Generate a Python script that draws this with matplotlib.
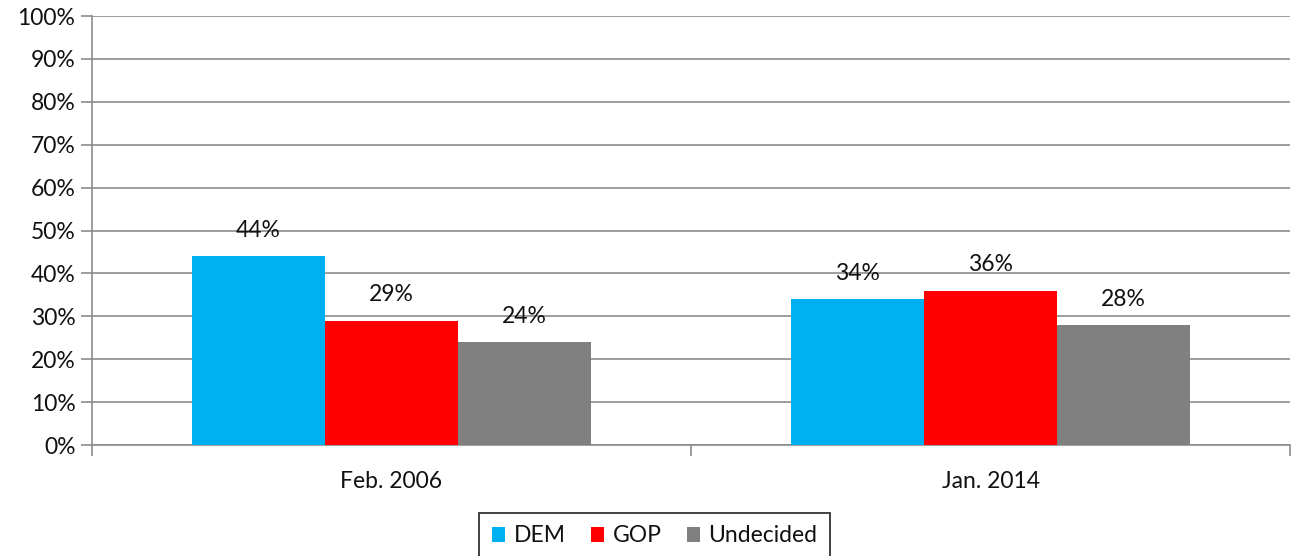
import matplotlib.pyplot as plt
import numpy as np
from matplotlib.patches import Patch
from matplotlib.ticker import PercentFormatter

plt.rcParams["font.family"] = ["Lato", "DejaVu Sans"]

# ── Data ────────────────────────────────────────────────────────────────────
periods = ["Feb. 2006", "Jan. 2014"]
dem = [44, 34]
gop = [29, 36]
undecided = [24, 28]

series = [("DEM", dem, "#00B0F0"), ("GOP", gop, "#FF0000"), ("Undecided", undecided, "#808080")]
FS = 16.5

# ── Figure ──────────────────────────────────────────────────────────────────
fig = plt.figure(figsize=(12.91, 5.56), dpi=100)
ax = fig.add_axes([0.0713, 0.1996, 0.928, 0.7716])

x = np.arange(len(periods))
width = 0.222
for i, (name, vals, color) in enumerate(series):
    pos = x + (i - 1) * width
    ax.bar(pos, vals, width=width, color=color, zorder=3)
    for p, v in zip(pos, vals):
        ax.annotate(f"{v}%", (p, v), xytext=(0, 11), textcoords="offset points",
                    ha="center", va="bottom", fontsize=FS, color="#111111")

ax.set_xlim(-0.5, 1.5)
ax.set_ylim(0, 100)
ax.set_yticks(range(0, 101, 10))
ax.yaxis.set_major_formatter(PercentFormatter(decimals=0))
ax.grid(axis="y", color="#8c8c8c", lw=1.2, zorder=0)

# category boundary ticks on the x axis
ax.set_xticks([-0.5, 0.5, 1.5])
ax.set_xticklabels([])
ax.set_xticks(x, minor=True)
ax.set_xticklabels(periods, minor=True)
ax.tick_params(axis="x", which="major", length=8, color="#8c8c8c", width=1.2)
ax.tick_params(axis="x", which="minor", length=0, pad=19, labelsize=FS, labelcolor="#111111")
ax.tick_params(axis="y", length=8, color="#8c8c8c", width=1.2, labelsize=FS, pad=4,
               labelcolor="#111111")

for side in ["top", "right"]:
    ax.spines[side].set_visible(False)
for side in ["left", "bottom"]:
    ax.spines[side].set_color("#8c8c8c")
    ax.spines[side].set_linewidth(1.2)

handles = [Patch(facecolor=c, label=n) for n, _, c in series]
leg = fig.legend(handles=handles, ncol=3, loc="center", bbox_to_anchor=(0.507, 0.036),
                 frameon=True, fancybox=False, fontsize=FS, handlelength=0.6,
                 handleheight=0.6, handletextpad=0.35, columnspacing=1.1,
                 borderpad=0.55, borderaxespad=0)
leg.get_frame().set_edgecolor("black")
leg.get_frame().set_linewidth(1.3)
for t in leg.get_texts():
    t.set_color("#111111")

fig.savefig("out.png", dpi=100)
